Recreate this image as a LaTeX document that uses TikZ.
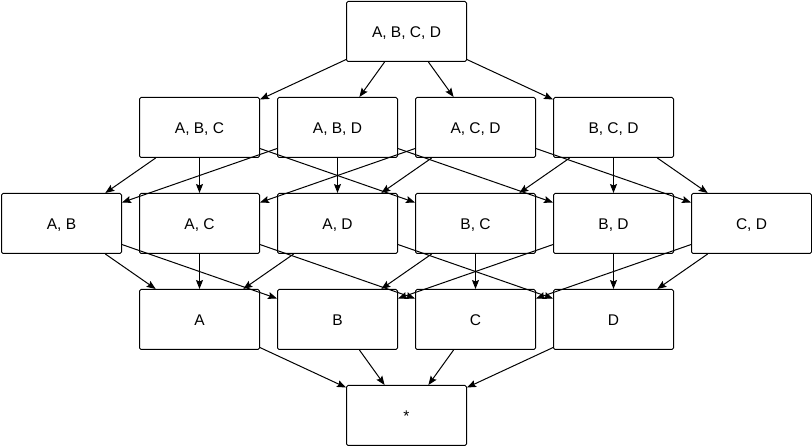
\documentclass[tikz,border=0pt]{standalone}
\usepackage{fontspec}
\setmainfont{Liberation Sans}
\usetikzlibrary{arrows.meta}
\begin{document}
\begin{tikzpicture}[x=1pt,y=-1pt,
  setbox/.style={draw=black, line width=1pt, rounded corners=1.5pt, fill=white,
    minimum width=120pt, minimum height=60pt, inner sep=0pt,
    font=\fontsize{15.5pt}{18pt}\selectfont, text height=11.1pt, text depth=0pt},
  link/.style={line width=1pt, -{Stealth[length=9pt,width=7pt,inset=1.5pt]}}]
\fill[white] (0,0) rectangle (812,446);
\useasboundingbox (0,0) rectangle (812,446);
% top
\node[setbox] (abcd) at (406.5,31.5) {A, B, C, D};
% row 2
\node[setbox] (abc) at (199.5,127.5) {A, B, C};
\node[setbox] (abd) at (337.5,127.5) {A, B, D};
\node[setbox] (acd) at (475.5,127.5) {A, C, D};
\node[setbox] (bcd) at (613.5,127.5) {B, C, D};
% row 3
\node[setbox] (ab) at (61.5,223.5) {A, B};
\node[setbox] (ac) at (199.5,223.5) {A, C};
\node[setbox] (ad) at (337.5,223.5) {A, D};
\node[setbox] (bc) at (475.5,223.5) {B, C};
\node[setbox] (bd) at (613.5,223.5) {B, D};
\node[setbox] (cd) at (751.5,223.5) {C, D};
% row 4
\node[setbox] (a) at (199.5,319.5) {A};
\node[setbox] (b) at (337.5,319.5) {B};
\node[setbox] (c) at (475.5,319.5) {C};
\node[setbox] (d) at (613.5,319.5) {D};
% bottom
\node[setbox] (e) at (406.5,415.5) {*};
% edges
\foreach \s/\t in {abcd/abc, abcd/abd, abcd/acd, abcd/bcd,
  abc/ab, abc/ac, abc/bc, abd/ab, abd/ad, abd/bd,
  acd/ac, acd/ad, acd/cd, bcd/bc, bcd/bd, bcd/cd,
  ab/a, ab/b, ac/a, ac/c, ad/a, ad/d, bc/b, bc/c, bd/b, bd/d, cd/c, cd/d,
  a/e, b/e, c/e, d/e}
  \draw[link] (\s) -- (\t);
\end{tikzpicture}
\end{document}
